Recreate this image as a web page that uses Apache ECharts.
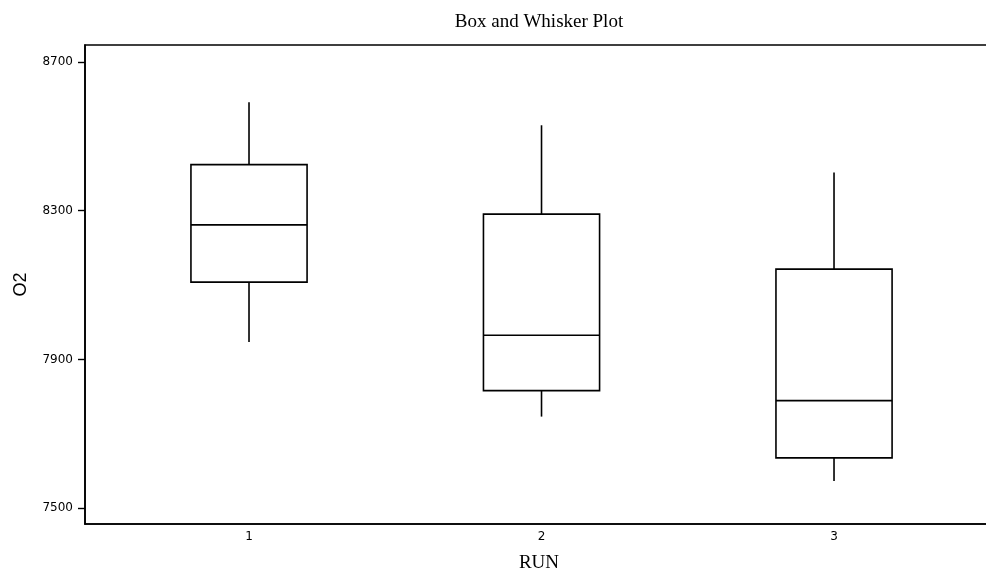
<!DOCTYPE html>
<html>
<head>
<meta charset="utf-8">
<script src="https://cdn.jsdelivr.net/npm/echarts@6/dist/echarts.min.js"></script>
<style>
  html, body { margin: 0; padding: 0; background: #fff; }
  #chart { width: 986px; height: 582px; }
</style>
</head>
<body>
<div id="chart"></div>
<script>
const runs = [1, 2, 3];
const lowWhisker = [7947, 7746, 7573];
const q1 = [8108, 7816, 7635];
const median = [8262, 7965, 7789];
const q3 = [8424, 8291, 8143];
const highWhisker = [8592, 8530, 8403];
const yTicks = [7500, 7900, 8300, 8700];
const xTicks = [1, 2, 3];

const boxData = runs.map((r, i) => [r, lowWhisker[i], q1[i], median[i], q3[i], highWhisker[i]]);

const chart = echarts.init(document.getElementById('chart'));
const lineStyle = { stroke: '#000', lineWidth: 1.6, fill: null };

chart.setOption({
  backgroundColor: '#fff',
  animation: false,
  title: {
    text: 'Box and Whisker Plot',
    left: 534,
    textAlign: 'center',
    top: 8,
    textStyle: { fontFamily: 'Liberation Serif', fontSize: 19, fontWeight: 'normal', color: '#000' }
  },
  grid: {
    left: 85, top: 45, height: 479, width: 908,
    outerBoundsMode: 'none',
    containLabel: false,
    show: true, borderColor: '#000', borderWidth: 1.6, backgroundColor: 'transparent'
  },
  xAxis: {
    type: 'value',
    min: 0.4393,
    max: 3.5435,
    name: 'RUN',
    nameLocation: 'middle',
    nameGap: 30,
    nameTextStyle: { fontFamily: 'Liberation Serif', fontSize: 19, color: '#000', padding: [0, 0, 0, 0] },
    axisLine: { show: true, onZero: false, lineStyle: { color: '#000', width: 1.6 } },
    axisTick: { show: false },
    splitLine: { show: false },
    axisLabel: {
      customValues: xTicks,
      margin: 7,
      fontFamily: 'DejaVu Sans', fontSize: 12, color: '#000'
    }
  },
  yAxis: {
    type: 'value',
    min: 7457,
    max: 8746,
    name: 'O2',
    nameLocation: 'middle',
    nameRotate: 90,
    nameGap: 55,
    nameTextStyle: { fontFamily: 'Liberation Sans', fontSize: 18, color: '#000' },
    axisLine: { show: true, onZero: false, lineStyle: { color: '#000', width: 1.6 } },
    axisTick: { show: true, customValues: yTicks, inside: false, length: 7, lineStyle: { color: '#000', width: 1.4 } },
    splitLine: { show: false },
    axisLabel: {
      customValues: yTicks,
      margin: 12,
      formatter: function (v) { return String(v); },
      fontFamily: 'DejaVu Sans', fontSize: 12, color: '#000'
    }
  },
  series: [{
    type: 'custom',
    data: boxData,
    encode: { x: 0, y: [1, 2, 3, 4, 5] },
    renderItem: function (params, api) {
      const x = api.value(0);
      const pLow = api.coord([x, api.value(1)]);
      const pQ1 = api.coord([x, api.value(2)]);
      const pMed = api.coord([x, api.value(3)]);
      const pQ3 = api.coord([x, api.value(4)]);
      const pHigh = api.coord([x, api.value(5)]);
      const half = api.size([0.397, 0])[0] / 2;
      const cx = pMed[0];
      return {
        type: 'group',
        children: [
          { type: 'line', shape: { x1: cx, y1: pHigh[1], x2: cx, y2: pQ3[1] }, style: lineStyle },
          { type: 'line', shape: { x1: cx, y1: pQ1[1], x2: cx, y2: pLow[1] }, style: lineStyle },
          { type: 'rect', shape: { x: cx - half, y: pQ3[1], width: half * 2, height: pQ1[1] - pQ3[1] }, style: lineStyle },
          { type: 'line', shape: { x1: cx - half, y1: pMed[1], x2: cx + half, y2: pMed[1] }, style: lineStyle }
        ]
      };
    }
  }]
});
</script>
</body>
</html>
